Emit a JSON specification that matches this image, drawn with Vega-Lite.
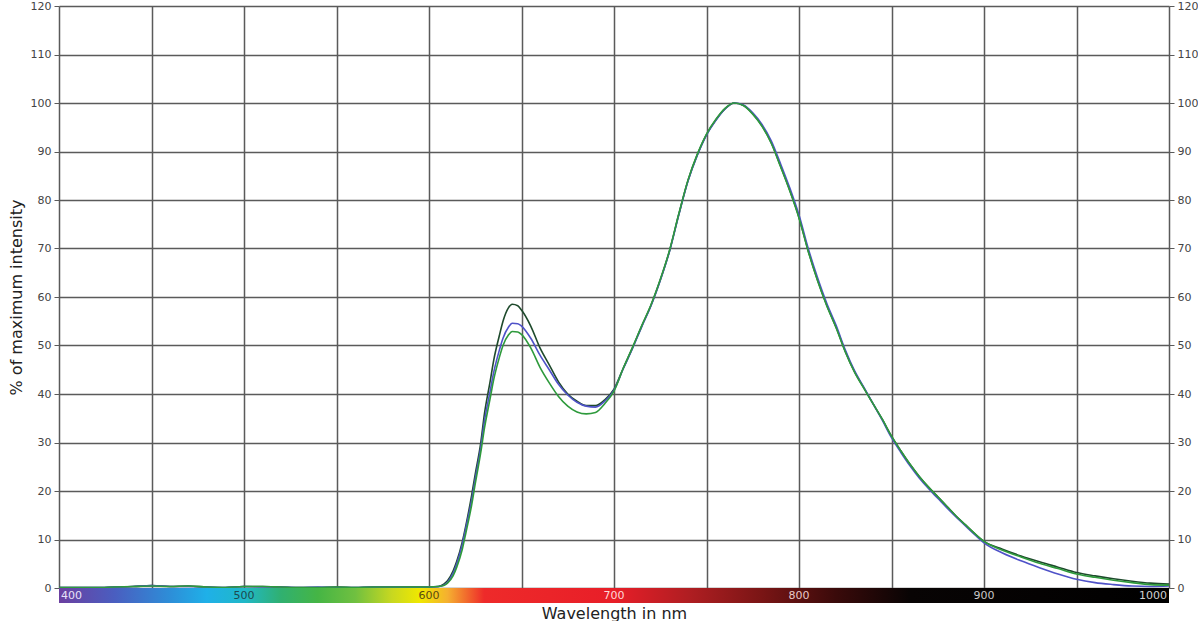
{
  "$schema": "https://vega.github.io/schema/vega-lite/v6.json",
  "padding": {"left": 8, "top": 0, "right": 0, "bottom": 0},
  "spacing": 0,
  "bounds": "flush",
  "config": {
    "view": {"stroke": null},
    "font": "DejaVu Sans"
  },
  "vconcat": [
    {
      "width": 1110,
      "height": 582,
      "data": {
        "values": [
          {"nm": 400, "a": 0.1, "b": 0.1, "c": 0.1},
          {"nm": 410, "a": 0.1, "b": 0.1, "c": 0.1},
          {"nm": 420, "a": 0.1, "b": 0.1, "c": 0.1},
          {"nm": 430, "a": 0.2, "b": 0.2, "c": 0.2},
          {"nm": 440, "a": 0.3, "b": 0.3, "c": 0.3},
          {"nm": 450, "a": 0.5, "b": 0.5, "c": 0.4},
          {"nm": 460, "a": 0.3, "b": 0.3, "c": 0.3},
          {"nm": 470, "a": 0.4, "b": 0.3, "c": 0.4},
          {"nm": 480, "a": 0.2, "b": 0.2, "c": 0.2},
          {"nm": 490, "a": 0.1, "b": 0.1, "c": 0.1},
          {"nm": 500, "a": 0.3, "b": 0.3, "c": 0.3},
          {"nm": 510, "a": 0.3, "b": 0.2, "c": 0.3},
          {"nm": 520, "a": 0.2, "b": 0.2, "c": 0.2},
          {"nm": 530, "a": 0.1, "b": 0.1, "c": 0.1},
          {"nm": 540, "a": 0.1, "b": 0.2, "c": 0.1},
          {"nm": 550, "a": 0.2, "b": 0.1, "c": 0.2},
          {"nm": 560, "a": 0.1, "b": 0.1, "c": 0.1},
          {"nm": 570, "a": 0.2, "b": 0.2, "c": 0.2},
          {"nm": 580, "a": 0.2, "b": 0.2, "c": 0.2},
          {"nm": 590, "a": 0.2, "b": 0.1, "c": 0.2},
          {"nm": 600, "a": 0.2, "b": 0.2, "c": 0.2},
          {"nm": 605, "a": 0.3, "b": 0.3, "c": 0.3},
          {"nm": 608, "a": 0.8, "b": 0.6, "c": 0.5},
          {"nm": 610, "a": 1.5, "b": 1.2, "c": 1.0},
          {"nm": 613, "a": 3.5, "b": 3.0, "c": 2.5},
          {"nm": 615, "a": 5.5, "b": 5.0, "c": 4.3},
          {"nm": 618, "a": 9.5, "b": 9.0, "c": 8.0},
          {"nm": 620, "a": 13.0, "b": 12.5, "c": 11.5},
          {"nm": 623, "a": 19.0, "b": 18.0, "c": 17.0},
          {"nm": 625, "a": 23.5, "b": 22.5, "c": 21.5},
          {"nm": 628, "a": 30.0, "b": 29.0, "c": 28.0},
          {"nm": 630, "a": 36.0, "b": 34.5, "c": 33.0},
          {"nm": 633, "a": 42.5, "b": 40.5, "c": 39.0},
          {"nm": 635, "a": 47.0, "b": 44.5, "c": 43.0},
          {"nm": 638, "a": 52.0, "b": 49.0, "c": 47.5},
          {"nm": 640, "a": 55.0, "b": 51.5, "c": 50.0},
          {"nm": 643, "a": 57.8, "b": 53.8, "c": 52.2},
          {"nm": 645, "a": 58.5, "b": 54.6, "c": 52.9},
          {"nm": 648, "a": 58.2, "b": 54.5, "c": 52.8},
          {"nm": 650, "a": 57.3, "b": 54.0, "c": 52.3},
          {"nm": 655, "a": 54.0, "b": 51.5, "c": 49.5},
          {"nm": 660, "a": 49.5, "b": 48.0, "c": 45.5},
          {"nm": 665, "a": 46.0, "b": 45.0, "c": 42.3},
          {"nm": 670, "a": 42.5, "b": 42.0, "c": 39.5},
          {"nm": 675, "a": 40.0, "b": 39.8, "c": 37.5},
          {"nm": 680, "a": 38.5, "b": 38.3, "c": 36.3},
          {"nm": 685, "a": 37.6, "b": 37.5, "c": 35.9},
          {"nm": 690, "a": 37.6, "b": 37.3, "c": 36.2},
          {"nm": 695, "a": 38.8, "b": 38.5, "c": 38.0},
          {"nm": 700, "a": 41.0, "b": 40.8, "c": 40.6},
          {"nm": 705, "a": 45.3, "b": 45.2, "c": 45.3},
          {"nm": 710, "a": 49.5, "b": 49.4, "c": 49.6},
          {"nm": 715, "a": 54.0, "b": 53.9, "c": 54.1},
          {"nm": 720, "a": 58.3, "b": 58.2, "c": 58.4},
          {"nm": 725, "a": 63.5, "b": 63.4, "c": 63.6},
          {"nm": 730, "a": 69.5, "b": 69.4, "c": 69.6},
          {"nm": 735, "a": 77.0, "b": 76.9, "c": 77.1},
          {"nm": 740, "a": 84.0, "b": 83.9, "c": 84.1},
          {"nm": 745, "a": 89.3, "b": 89.2, "c": 89.4},
          {"nm": 750, "a": 93.5, "b": 93.4, "c": 93.6},
          {"nm": 755, "a": 96.5, "b": 96.4, "c": 96.6},
          {"nm": 760, "a": 98.8, "b": 98.8, "c": 98.9},
          {"nm": 765, "a": 100.0, "b": 100.0, "c": 100.0},
          {"nm": 770, "a": 99.5, "b": 99.6, "c": 99.5},
          {"nm": 775, "a": 97.8, "b": 98.0, "c": 97.7},
          {"nm": 780, "a": 95.3, "b": 95.6, "c": 95.2},
          {"nm": 785, "a": 91.8, "b": 92.2, "c": 91.7},
          {"nm": 790, "a": 87.0, "b": 87.5, "c": 86.9},
          {"nm": 795, "a": 82.0, "b": 82.5, "c": 81.9},
          {"nm": 800, "a": 76.4, "b": 76.9, "c": 76.3},
          {"nm": 805, "a": 69.5, "b": 70.0, "c": 69.4},
          {"nm": 810, "a": 63.5, "b": 64.0, "c": 63.4},
          {"nm": 815, "a": 58.3, "b": 58.7, "c": 58.2},
          {"nm": 820, "a": 53.8, "b": 54.2, "c": 53.7},
          {"nm": 825, "a": 48.8, "b": 49.1, "c": 48.7},
          {"nm": 830, "a": 44.6, "b": 44.8, "c": 44.5},
          {"nm": 835, "a": 41.3, "b": 41.4, "c": 41.2},
          {"nm": 840, "a": 38.0, "b": 38.0, "c": 38.0},
          {"nm": 845, "a": 34.8, "b": 34.6, "c": 34.8},
          {"nm": 850, "a": 31.3, "b": 31.0, "c": 31.3},
          {"nm": 855, "a": 28.3, "b": 28.0, "c": 28.3},
          {"nm": 860, "a": 25.5, "b": 25.2, "c": 25.5},
          {"nm": 865, "a": 23.0, "b": 22.7, "c": 23.0},
          {"nm": 870, "a": 20.8, "b": 20.5, "c": 20.8},
          {"nm": 875, "a": 18.8, "b": 18.5, "c": 18.8},
          {"nm": 880, "a": 16.8, "b": 16.5, "c": 16.8},
          {"nm": 885, "a": 14.8, "b": 14.6, "c": 14.8},
          {"nm": 890, "a": 13.0, "b": 12.8, "c": 13.0},
          {"nm": 895, "a": 11.2, "b": 11.0, "c": 11.2},
          {"nm": 900, "a": 9.6, "b": 9.3, "c": 9.6},
          {"nm": 910, "a": 8.0, "b": 7.2, "c": 7.8},
          {"nm": 920, "a": 6.6, "b": 5.6, "c": 6.4},
          {"nm": 930, "a": 5.4, "b": 4.2, "c": 5.1},
          {"nm": 940, "a": 4.3, "b": 2.9, "c": 4.0},
          {"nm": 950, "a": 3.2, "b": 1.8, "c": 2.9},
          {"nm": 960, "a": 2.5, "b": 1.1, "c": 2.2},
          {"nm": 970, "a": 1.9, "b": 0.7, "c": 1.6},
          {"nm": 980, "a": 1.4, "b": 0.4, "c": 1.1},
          {"nm": 990, "a": 1.0, "b": 0.3, "c": 0.7},
          {"nm": 1000, "a": 0.8, "b": 0.4, "c": 0.6}
        ]
      },
      "encoding": {
        "x": {
          "field": "nm",
          "type": "quantitative",
          "scale": {"domain": [400, 1000], "nice": false, "zero": false},
          "axis": {
            "values": [400, 450, 500, 550, 600, 650, 700, 750, 800, 850, 900, 950, 1000],
            "grid": true,
            "gridColor": "#5a5a5a",
            "gridWidth": 1.5,
            "labels": false,
            "ticks": false,
            "domain": false,
            "title": null
          }
        }
      },
      "layer": [
        {
          "mark": {"type": "line", "color": "#1e4a2c", "strokeWidth": 1.6, "interpolate": "monotone"},
          "encoding": {
            "y": {
              "field": "a",
              "type": "quantitative",
              "scale": {"domain": [0, 120], "nice": false},
              "axis": {
                "orient": "left",
                "values": [0, 10, 20, 30, 40, 50, 60, 70, 80, 90, 100, 110, 120],
                "grid": true,
                "gridColor": "#5a5a5a",
                "gridWidth": 1.5,
                "domain": false,
                "tickColor": "#5a5a5a",
                "tickSize": 5,
                "labelFontSize": 11,
                "labelColor": "#444444",
                "labelPadding": 3,
                "title": "% of maximum intensity",
                "titleFontSize": 16,
                "titleFontWeight": "normal",
                "titleColor": "#222222",
                "titlePadding": 6
              }
            }
          }
        },
        {
          "mark": {"type": "line", "color": "#4f52c8", "strokeWidth": 1.6, "interpolate": "monotone"},
          "encoding": {
            "y": {"field": "b", "type": "quantitative", "axis": null}
          }
        },
        {
          "mark": {"type": "line", "color": "#2e9a3c", "strokeWidth": 1.6, "interpolate": "monotone"},
          "encoding": {
            "y": {
              "field": "c",
              "type": "quantitative",
              "axis": {
                "orient": "right",
                "values": [0, 10, 20, 30, 40, 50, 60, 70, 80, 90, 100, 110, 120],
                "grid": false,
                "domain": false,
                "tickColor": "#5a5a5a",
                "tickSize": 5,
                "labelFontSize": 11,
                "labelColor": "#444444",
                "labelPadding": 3,
                "title": null
              }
            }
          }
        }
      ],
      "resolve": {"axis": {"y": "independent"}}
    },
    {
      "width": 1110,
      "height": 15,
      "layer": [
        {
          "data": {"values": [{"from": 400, "to": 1000}]},
          "mark": {
            "type": "rect",
            "color": {
              "gradient": "linear",
              "x1": 0, "y1": 0, "x2": 1, "y2": 0,
              "stops": [
                {"offset": 0, "color": "#6b3fa0"},
                {"offset": 0.05, "color": "#4a5ec0"},
                {"offset": 0.1, "color": "#2d8ed8"},
                {"offset": 0.133, "color": "#1fb0e8"},
                {"offset": 0.167, "color": "#20b8c8"},
                {"offset": 0.2, "color": "#30b070"},
                {"offset": 0.233, "color": "#45b545"},
                {"offset": 0.267, "color": "#70c040"},
                {"offset": 0.3, "color": "#c8d820"},
                {"offset": 0.325, "color": "#f0e800"},
                {"offset": 0.35, "color": "#f5b030"},
                {"offset": 0.383, "color": "#ee2a2a"},
                {"offset": 0.5, "color": "#e81e28"},
                {"offset": 0.567, "color": "#b01e22"},
                {"offset": 0.633, "color": "#7a1515"},
                {"offset": 0.7, "color": "#3a0a0a"},
                {"offset": 0.767, "color": "#080404"},
                {"offset": 1, "color": "#000000"}
              ]
            }
          },
          "encoding": {
            "x": {
              "field": "from",
              "type": "quantitative",
              "scale": {"domain": [400, 1000], "nice": false, "zero": false},
              "axis": {
                "labels": false,
                "ticks": false,
                "domain": false,
                "grid": false,
                "title": "Wavelength in nm",
                "titleFontSize": 16,
                "titleFontWeight": "normal",
                "titleColor": "#222222",
                "titlePadding": 2
              }
            },
            "x2": {"field": "to"}
          }
        },
        {
          "data": {
            "values": [
              {"nm": 400}, {"nm": 500}, {"nm": 600}, {"nm": 700},
              {"nm": 800}, {"nm": 900}, {"nm": 1000}
            ]
          },
          "mark": {
            "type": "text",
            "fontSize": 11,
            "baseline": "middle",
            "align": {"expr": "datum.nm == 400 ? 'left' : datum.nm == 1000 ? 'right' : 'center'"},
            "dx": {"expr": "datum.nm == 400 ? 2 : datum.nm == 1000 ? -2 : 0"}
          },
          "encoding": {
            "x": {"field": "nm", "type": "quantitative"},
            "text": {"field": "nm", "type": "quantitative"},
            "color": {
              "field": "nm",
              "type": "ordinal",
              "legend": null,
              "scale": {
                "domain": [400, 500, 600, 700, 800, 900, 1000],
                "range": ["#e8e0f8", "#1d4a50", "#5a4a10", "#ffd8d8", "#e8c8c8", "#c8c8c8", "#d0d0d0"]
              }
            }
          }
        }
      ]
    }
  ]
}
